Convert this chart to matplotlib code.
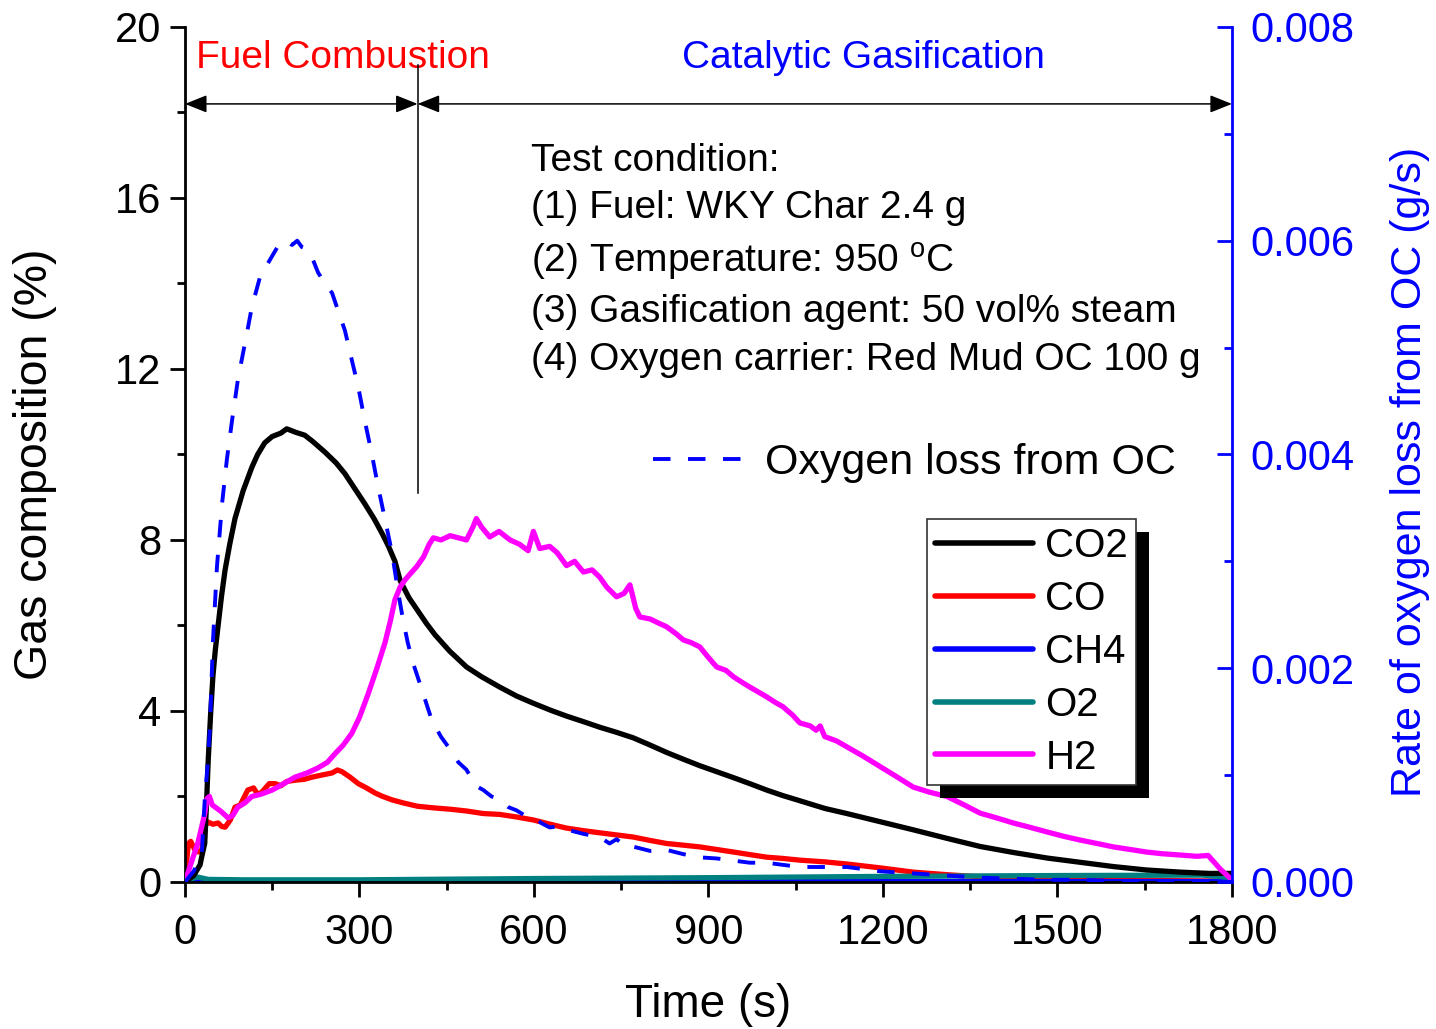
import numpy as np
import matplotlib
matplotlib.use("Agg")
import matplotlib.pyplot as plt
from matplotlib.patches import Rectangle
from matplotlib.transforms import IdentityTransform
from matplotlib.lines import Line2D

plt.rcParams['font.family'] = ['Liberation Sans', 'DejaVu Sans']
plt.rcParams['mathtext.fontset'] = 'custom'
plt.rcParams['mathtext.rm'] = 'Liberation Sans'

# ---- data ----
t_co2 = [0, 15, 26, 29, 34, 37, 40, 44, 48, 52, 57, 63, 69, 77, 86, 100, 115, 125, 137, 150,
         165, 175, 190, 206, 220, 241, 260, 275, 292, 309, 325, 339, 350, 361, 370, 385, 400,
         415, 430, 455, 484, 510, 541, 570, 599, 628, 656, 685, 713, 742, 771, 800, 828, 857,
         885, 914, 943, 971, 1000, 1028, 1057, 1100, 1138, 1195, 1252, 1310, 1367, 1424, 1482,
         1539, 1596, 1653, 1711, 1760, 1800]
co2 = [0, 0.15, 0.4, 0.6, 0.9, 1.8, 2.85, 3.9, 4.8, 5.4, 6.0, 6.7, 7.3, 7.9, 8.5, 9.15, 9.7, 10.0,
       10.27, 10.42, 10.5, 10.6, 10.52, 10.45, 10.3, 10.05, 9.8, 9.55, 9.2, 8.85, 8.5, 8.15, 7.85,
       7.5, 7.05, 6.65, 6.35, 6.05, 5.78, 5.4, 5.03, 4.8, 4.56, 4.35, 4.18, 4.02, 3.88, 3.75, 3.62,
       3.5, 3.37, 3.2, 3.03, 2.87, 2.72, 2.58, 2.44, 2.3, 2.15, 2.02, 1.9, 1.72, 1.6, 1.41, 1.22,
       1.02, 0.83, 0.69, 0.56, 0.46, 0.36, 0.28, 0.23, 0.2, 0.2]

t_co = [0, 3, 6, 10, 17, 24, 29, 34, 40, 48, 57, 63, 69, 78, 86, 95, 108, 118, 125, 132, 145,
        155, 165, 175, 189, 205, 218, 235, 253, 262, 270, 284, 298, 312, 327, 340, 356, 375, 400,
        430, 457, 484, 513, 541, 570, 599, 628, 656, 685, 713, 742, 771, 800, 828, 857, 885, 914,
        943, 971, 1000, 1028, 1057, 1100, 1138, 1195, 1252, 1310, 1367, 1424, 1482, 1539, 1600,
        1700, 1800]
co = [0, 0.5, 0.9, 0.95, 0.75, 0.7, 0.75, 1.3, 1.4, 1.35, 1.38, 1.3, 1.28, 1.45, 1.75, 1.8, 2.15,
      2.2, 2.05, 2.1, 2.3, 2.3, 2.25, 2.35, 2.38, 2.4, 2.45, 2.5, 2.55, 2.62, 2.58, 2.45, 2.3, 2.2,
      2.08, 2.0, 1.92, 1.85, 1.77, 1.73, 1.7, 1.66, 1.6, 1.58, 1.52, 1.45, 1.35, 1.26, 1.2, 1.15,
      1.1, 1.05, 0.97, 0.9, 0.86, 0.82, 0.76, 0.7, 0.64, 0.58, 0.55, 0.51, 0.47, 0.42, 0.33, 0.23,
      0.17, 0.12, 0.08, 0.06, 0.05, 0.04, 0.03, 0.02]

t_ch4 = [0, 300, 900, 1800]
ch4 = [0, 0.01, 0.01, 0.01]

t_o2 = [0, 20, 40, 100, 300, 600, 900, 1200, 1500, 1750, 1800]
o2 = [0, 0.12, 0.06, 0.05, 0.05, 0.08, 0.1, 0.13, 0.15, 0.16, 0.1]

t_h2 = [0, 6, 12, 22, 29, 34, 38, 42, 47, 52, 62, 74, 82, 91, 103, 115, 130, 150, 170, 189, 210,
        229, 245, 258, 272, 287, 300, 315, 330, 344, 353, 361, 370, 378, 390, 398, 410, 420, 427,
        440, 456, 470, 484, 495, 501, 510, 524, 540, 559, 575, 590, 599, 610, 627, 640, 656, 670,
        685, 700, 713, 725, 742, 755, 765, 775, 782, 800, 815, 828, 845, 857, 870, 885, 900, 914,
        930, 943, 960, 971, 985, 1000, 1015, 1028, 1045, 1057, 1075, 1085, 1092, 1100, 1120, 1138,
        1165, 1195, 1225, 1252, 1280, 1310, 1340, 1367, 1395, 1424, 1455, 1482, 1510, 1539, 1568,
        1596, 1625, 1653, 1680, 1711, 1740, 1759, 1767, 1780, 1796, 1800]
h2 = [0, 0.25, 0.5, 0.9, 1.3, 1.6, 1.95, 2.0, 1.8, 1.75, 1.65, 1.5, 1.55, 1.75, 1.85, 2.0, 2.05,
      2.15, 2.3, 2.45, 2.55, 2.67, 2.8, 3.0, 3.2, 3.48, 3.85, 4.4, 5.0, 5.6, 6.1, 6.6, 6.9, 7.06,
      7.25, 7.37, 7.6, 7.9, 8.05, 8.0, 8.1, 8.05, 8.0, 8.3, 8.5, 8.3, 8.07, 8.2, 8.0, 7.9, 7.75,
      8.2, 7.8, 7.85, 7.7, 7.4, 7.5, 7.25, 7.3, 7.13, 6.9, 6.67, 6.75, 6.95, 6.4, 6.2, 6.15, 6.05,
      5.97, 5.8, 5.66, 5.6, 5.5, 5.25, 5.03, 4.95, 4.8, 4.65, 4.56, 4.45, 4.33, 4.2, 4.1, 3.9,
      3.72, 3.65, 3.55, 3.65, 3.4, 3.3, 3.16, 2.95, 2.7, 2.45, 2.22, 2.1, 2.0, 1.8, 1.61, 1.5,
      1.38, 1.27, 1.17, 1.07, 0.98, 0.9, 0.82, 0.76, 0.7, 0.66, 0.63, 0.6, 0.62, 0.5, 0.3, 0.1,
      0.05]

# oxygen loss rate from OC (g/s), right axis
t_ox = [0, 15, 29, 34, 39, 43, 48, 55, 64, 72, 81, 91, 106, 115, 129, 146, 160, 167, 175, 184,
        193, 201, 210, 218, 229, 241, 253, 263, 275, 287, 298, 309, 321, 332, 344, 356, 366, 375,
        383, 392, 400, 412, 424, 440, 456, 470, 484, 500, 513, 527, 541, 556, 570, 585, 599, 613,
        627, 642, 656, 685, 713, 730, 742, 760, 771, 800, 828, 857, 885, 914, 943, 971, 1000,
        1028, 1057, 1100, 1138, 1195, 1252, 1310, 1367, 1424, 1482, 1539, 1600, 1700, 1800]
ox_loss = [0, 0.0001, 0.00027, 0.00077, 0.0011, 0.00145, 0.00224, 0.00295, 0.00355, 0.00395,
           0.00432, 0.0047, 0.00512, 0.00538, 0.00566, 0.00582, 0.00595, 0.00598, 0.006, 0.00596,
           0.006, 0.00594, 0.00592, 0.00585, 0.0057, 0.0056, 0.00551, 0.00535, 0.00516, 0.00488,
           0.00463, 0.00432, 0.00401, 0.0037, 0.00339, 0.00308, 0.00273, 0.00245, 0.00224,
           0.00205, 0.00192, 0.00172, 0.00152, 0.00136, 0.00124, 0.00112, 0.00105, 0.0009,
           0.00086, 0.0008, 0.00077, 0.0007, 0.00067, 0.00062, 0.00061, 0.00055, 0.00051,
           0.00052, 0.00049, 0.00045, 0.00042, 0.00036, 0.0004, 0.00032, 0.00033, 0.00029,
           0.0003, 0.00026, 0.00023, 0.00022, 0.0002, 0.00018, 0.00018, 0.00016, 0.00014,
           0.00014, 0.00014, 0.0001, 0.00008, 0.00006, 0.00004, 0.00003, 0.00002, 0.00002,
           0.00001, 0.00001, 0.0]

conditions = ["Test condition:",
              "(1) Fuel: WKY Char 2.4 g",
              r"(2) Temperature: 950 $^{\rm o}$C",
              "(3) Gasification agent: 50 vol% steam",
              "(4) Oxygen carrier: Red Mud OC 100 g"]
cond_y = [16.63, 15.53, 14.25, 13.1, 11.98]

fig = plt.figure(figsize=(14.36, 10.29), dpi=100)
ax = fig.add_axes([0.1288, 0.1429, 0.7291, 0.8309])
ax2 = ax.twinx()

lw = 3.8
l_co2, = ax.plot(t_co2, co2, color='black', lw=lw, label='CO2', zorder=3)
l_co, = ax.plot(t_co, co, color='#ff0000', lw=lw, label='CO', zorder=2)
l_ch4, = ax.plot(t_ch4, ch4, color='#0000ff', lw=lw, label='CH4', zorder=2)
l_o2, = ax.plot(t_o2, o2, color='#008080', lw=lw, label='O2', zorder=2)
l_h2, = ax.plot(t_h2, h2, color='#ff00ff', lw=lw, label='H2', zorder=3)

l_ox, = ax2.plot(t_ox, ox_loss, color='#0000ff', lw=2.8, dashes=(4.5, 4.5),
                 label='Oxygen loss from OC')

ax.set_xlim(0, 1800)
ax.set_ylim(0, 20)
ax2.set_ylim(0, 0.008)
ax.set_xticks(np.arange(0, 1801, 300))
ax.set_xticks(np.arange(150, 1800, 300), minor=True)
ax.set_yticks(np.arange(0, 21, 4))
ax.set_yticks(np.arange(2, 20, 4), minor=True)
ax2.set_yticks([0, 0.002, 0.004, 0.006, 0.008])
ax2.set_yticks([0.001, 0.003, 0.005, 0.007], minor=True)
ax2.set_yticklabels(['0.000', '0.002', '0.004', '0.006', '0.008'])

for a in (ax, ax2):
    a.spines['top'].set_visible(False)
    for s in a.spines.values():
        s.set_linewidth(2)
ax.spines['right'].set_visible(False)
ax2.spines['left'].set_visible(False)
ax2.spines['bottom'].set_visible(False)
ax2.spines['right'].set_color('#0000ff')

ax.tick_params(axis='both', which='major', direction='out', length=11, width=2,
               labelsize=30, pad=6)
ax.tick_params(axis='both', which='minor', direction='out', length=6, width=2)
ax.tick_params(axis='x', which='major', pad=11)
ax2.tick_params(axis='y', which='major', direction='in', length=11, width=2,
                color='#0000ff', labelcolor='#0000ff', labelsize=30, pad=13)
ax2.tick_params(axis='y', which='minor', direction='in', length=6, width=2, color='#0000ff')

ax.set_xlabel('Time (s)', fontsize=33, labelpad=22)
ax.set_ylabel('Gas composition (%)', fontsize=33.5)
ax.yaxis.set_label_coords(-0.122, 0.488)
ax2.set_ylabel('Rate of oxygen loss from OC (g/s)', fontsize=31, color='#0000ff')
ax2.yaxis.set_label_coords(1.151, 0.4795)

# phase arrows
arrow = dict(arrowstyle='<|-|>,head_length=0.45,head_width=0.18', color='black', lw=1.1,
             mutation_scale=30, shrinkA=0, shrinkB=0)
ax.annotate('', xy=(0, 18.2), xytext=(400, 18.2), arrowprops=arrow, zorder=6)
ax.annotate('', xy=(400, 18.2), xytext=(1800, 18.2), arrowprops=arrow, zorder=6)
ax.plot([400, 400], [9.1, 19.1], color='black', lw=1.1, zorder=6)

ax.text(19, 19.28, 'Fuel Combustion', color='#ff0000', fontsize=28, va='center', ha='left')
ax.text(1167, 19.28, 'Catalytic Gasification', color='#0000ff', fontsize=28,
        va='center', ha='center')

for txt, yy in zip(conditions, cond_y):
    ax.text(595, yy, txt, fontsize=28, va='baseline', ha='left')

leg = ax2.legend(handles=[l_co2, l_co, l_ch4, l_o2, l_h2], loc='upper left',
                 bbox_to_anchor=(0.709, 0.4246), borderaxespad=0, fontsize=29,
                 fancybox=False, framealpha=1, edgecolor='#333333', handlelength=2.43,
                 handletextpad=0.3, labelspacing=0.37, borderpad=0.2)
leg.get_frame().set_linewidth(1.2)
for ln in leg.get_lines():
    ln.set_linewidth(4)
    ln.set_solid_capstyle('round')

leg2 = Line2D([], [], color='#0000ff', lw=2.8, dashes=(4.5, 4.5))
ax2.add_artist(leg)
ax2.legend(handles=[leg2], labels=['Oxygen loss from OC'], loc='center left',
           bbox_to_anchor=(0.447, 0.49), borderaxespad=0, borderpad=0, frameon=False,
           fontsize=31, handlelength=2.1, handletextpad=0.5)

# black drop shadow behind the gas legend
fig.canvas.draw()
bb = leg.get_window_extent()
shadow = Rectangle((bb.x0 + 13, bb.y0 - 13), bb.width, bb.height, transform=IdentityTransform(),
                   facecolor='black', edgecolor='none', zorder=4.5, clip_on=False)
ax2.add_artist(shadow)
leg.set_zorder(5)

fig.savefig('out.png', dpi=100)
